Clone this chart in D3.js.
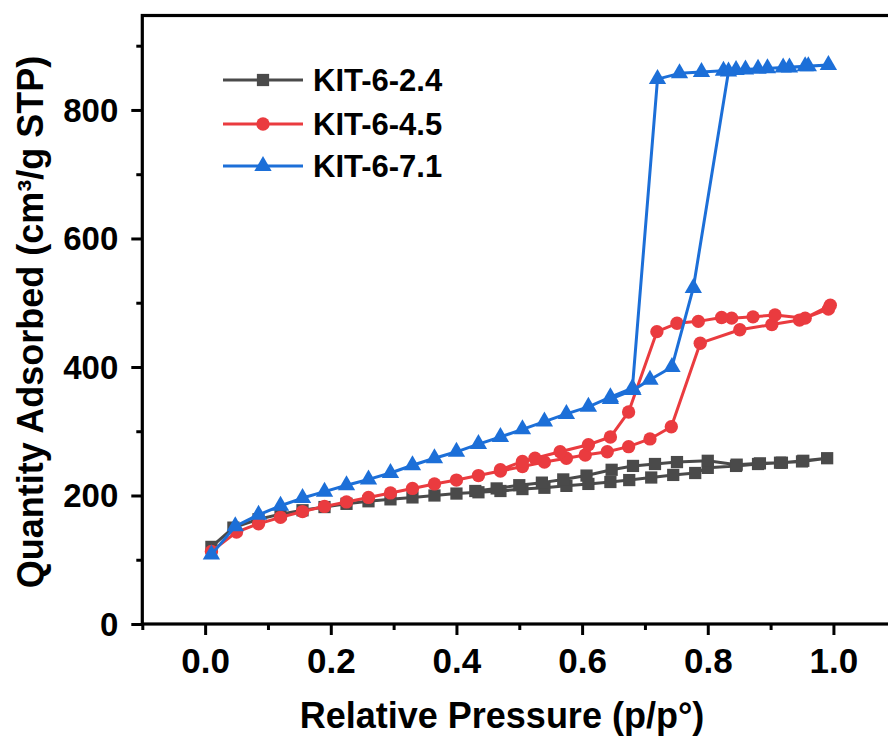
<!DOCTYPE html>
<html>
<head>
<meta charset="utf-8">
<script src="https://cdn.jsdelivr.net/npm/d3@7/dist/d3.min.js"></script>
<style>
  html, body { margin: 0; padding: 0; background: #fff; }
  svg text { font-family: "Liberation Sans", Arial, sans-serif; font-weight: bold; fill: #000; }
</style>
</head>
<body>
<svg id="chart" width="888" height="740"></svg>
<script>
// N2 sorption isotherms: adsorption branch followed by desorption branch
const seriesNames = ["KIT-6-2.4", "KIT-6-4.5", "KIT-6-7.1"];
const seriesColors = ["#4a4a4a", "#ea3b3f", "#1c6fd8"];

const p24 = [0.010, 0.045, 0.085, 0.120, 0.155, 0.190, 0.225, 0.260, 0.295, 0.330, 0.365, 0.400, 0.435, 0.470, 0.505, 0.540, 0.575, 0.610, 0.645, 0.675, 0.710, 0.745, 0.780, 0.800, 0.845, 0.880, 0.915, 0.950, 0.990,
             0.952, 0.918, 0.883, 0.846, 0.800, 0.751, 0.716, 0.681, 0.647, 0.607, 0.570, 0.536, 0.500, 0.464, 0.430];
const v24 = [120, 150, 163, 171, 177, 182, 187, 191, 194, 197, 200, 203, 205, 207, 210, 212, 215, 218, 221, 224, 228, 232, 235, 243, 246, 249, 251, 253, 258,
             254, 251, 250, 248, 254, 252, 249, 246, 240, 231, 225, 220, 216, 211, 207];

const p45 = [0.010, 0.050, 0.085, 0.120, 0.155, 0.190, 0.225, 0.260, 0.295, 0.330, 0.365, 0.400, 0.435, 0.470, 0.505, 0.540, 0.575, 0.605, 0.640, 0.674, 0.708, 0.742, 0.788, 0.851, 0.902, 0.946, 0.992,
             0.995, 0.955, 0.907, 0.872, 0.838, 0.822, 0.785, 0.751, 0.719, 0.674, 0.645, 0.610, 0.565, 0.525, 0.505, 0.470];
const v45 = [113, 143, 156, 166, 175, 183, 190, 197, 204, 211, 218, 224, 231, 238, 245, 252, 258, 263, 268, 276, 288, 307, 437, 458, 466, 473, 490,
             496, 476, 481, 478, 476, 477, 471, 468, 455, 330, 291, 279, 268, 258, 253, 240];

const p71 = [0.010, 0.048, 0.085, 0.120, 0.155, 0.190, 0.225, 0.260, 0.295, 0.330, 0.365, 0.400, 0.435, 0.470, 0.505, 0.540, 0.575, 0.610, 0.645, 0.680, 0.720, 0.755, 0.790, 0.825, 0.860, 0.895, 0.930, 0.960, 0.992,
             0.955, 0.920, 0.880, 0.845, 0.833, 0.777, 0.743, 0.708, 0.681, 0.645];
const v71 = [108, 152, 170, 184, 196, 206, 216, 225, 235, 247, 258, 268, 280, 291, 303, 315, 327, 338, 353, 367, 848, 857, 859, 861, 863, 865, 866, 868, 870,
             868, 866, 864, 862, 860, 523, 400, 380, 364, 350];

const xTicks = [0.0, 0.2, 0.4, 0.6, 0.8, 1.0];
const xMinor = [-0.1, 0.1, 0.3, 0.5, 0.7, 0.9, 1.1];
const yTicks = [0, 200, 400, 600, 800];
const yMinor = [100, 300, 500, 700, 900];

const xLabel = "Relative Pressure (p/p°)";
const yLabel = "Quantity Adsorbed (cm³/g STP)";

const svg = d3.select("#chart");
const plotLeft = 142.3, plotTop = 15.5, plotBottom = 624;
const x = d3.scaleLinear().domain([-0.1, 1.1]).range([plotLeft, plotLeft + 1.2 * 628.3]);
const y = d3.scaleLinear().domain([0, 947]).range([plotBottom, plotTop]);

// axes
const gx = svg.append("g").attr("transform", `translate(0,${plotBottom})`)
  .call(d3.axisBottom(x).tickValues(xTicks).tickFormat(d3.format(".1f")).tickSize(11).tickPadding(13));
const gxm = svg.append("g").attr("transform", `translate(0,${plotBottom})`)
  .call(d3.axisBottom(x).tickValues(xMinor).tickFormat("").tickSize(6));
const gy = svg.append("g").attr("transform", `translate(${plotLeft},0)`)
  .call(d3.axisLeft(y).tickValues(yTicks).tickFormat(d3.format("d")).tickSize(11).tickPadding(13));
const gym = svg.append("g").attr("transform", `translate(${plotLeft},0)`)
  .call(d3.axisLeft(y).tickValues(yMinor).tickFormat("").tickSize(6));

[gx, gxm, gy, gym].forEach(g => {
  g.select(".domain").remove();
  g.selectAll(".tick line").attr("stroke", "#000").attr("stroke-width", 3);
});
gx.selectAll(".tick text").style("font-size", "35px").attr("font-family", null).attr("dy", "0.71em");
gy.selectAll(".tick text").style("font-size", "33px").attr("font-family", null).attr("dy", "0.34em");

// frame
svg.append("rect")
  .attr("x", plotLeft).attr("y", plotTop)
  .attr("width", x.range()[1] - plotLeft).attr("height", plotBottom - plotTop)
  .attr("fill", "none").attr("stroke", "#000").attr("stroke-width", 3.2);

// axis titles
svg.append("text").attr("x", 502).attr("y", 728).attr("text-anchor", "middle")
  .style("font-size", "36px").text(xLabel);
svg.append("text").attr("transform", "translate(43,322) rotate(-90)").attr("text-anchor", "middle")
  .style("font-size", "36px").text(yLabel);

// marker shapes
const markerTypes = [d3.symbolSquare, d3.symbolCircle, d3.symbolTriangle];
const markerSizes = [150, 140, 130];

const data = [
  p24.map((p, i) => [p, v24[i]]),
  p45.map((p, i) => [p, v45[i]]),
  p71.map((p, i) => [p, v71[i]])
];

const line = d3.line().x(d => x(d[0])).y(d => y(d[1]));
const plot = svg.append("g");
data.forEach((pts, k) => {
  const g = plot.append("g");
  g.append("path").attr("d", line(pts)).attr("fill", "none")
    .attr("stroke", seriesColors[k]).attr("stroke-width", 3).attr("stroke-linejoin", "round");
  g.selectAll("path.m").data(pts).join("path").attr("class", "m")
    .attr("transform", d => `translate(${x(d[0])},${y(d[1])})`)
    .attr("d", d3.symbol().type(markerTypes[k]).size(markerSizes[k]))
    .attr("fill", seriesColors[k]);
});

// legend
const legRows = [80, 124, 166];
seriesNames.forEach((name, k) => {
  const g = svg.append("g").attr("transform", `translate(0,${legRows[k]})`);
  g.append("line").attr("x1", 223).attr("x2", 303).attr("y1", 0).attr("y2", 0)
    .attr("stroke", seriesColors[k]).attr("stroke-width", 3);
  g.append("path").attr("transform", "translate(263,0)")
    .attr("d", d3.symbol().type(markerTypes[k]).size(markerSizes[k])).attr("fill", seriesColors[k]);
  g.append("text").attr("x", 313).attr("y", 11).style("font-size", "31px").text(name);
});
</script>
</body>
</html>
